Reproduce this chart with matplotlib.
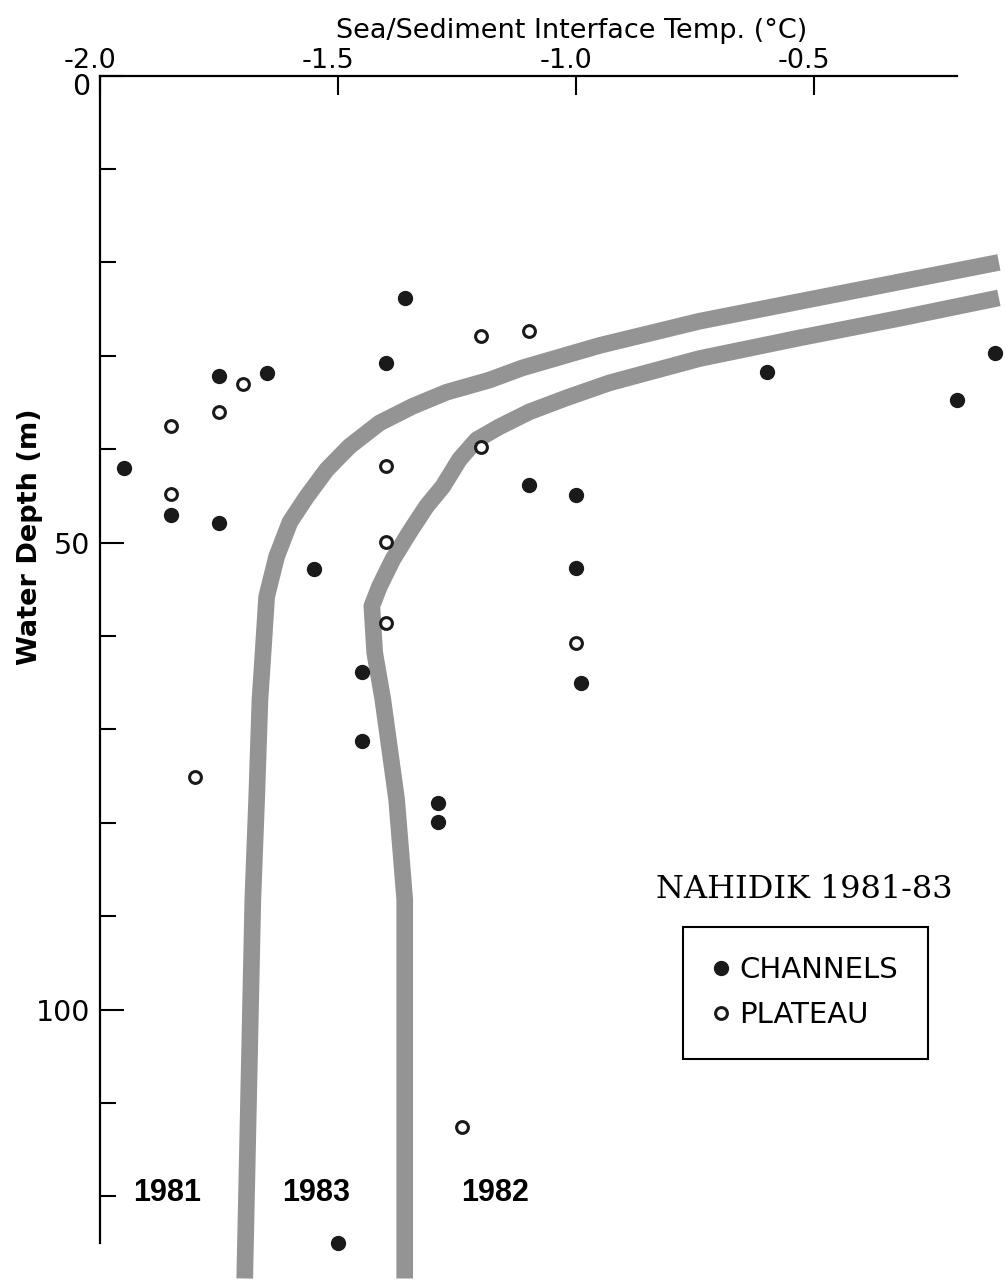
import numpy as np
import matplotlib
matplotlib.use('Agg')
import matplotlib.pyplot as plt
import matplotlib.transforms as mtransforms
from matplotlib.lines import Line2D

plt.rcParams['axes.unicode_minus'] = False
plt.rcParams['font.family'] = 'DejaVu Sans'

# channel stations (filled) : temperature (C), water depth (m)
chan_temp = [-1.95, -1.85, -1.75, -1.75, -1.65, -1.55, -1.36, -1.40, -1.10, -1.00,
             -1.00, -0.99, -1.45, -1.45, -1.29, -1.29, -0.60, -0.20, -0.12, -1.50]
chan_depth = [42.0, 47.1, 47.9, 32.2, 31.8, 52.8, 23.8, 30.8, 43.8, 44.9,
              52.7, 65.0, 63.9, 71.2, 77.9, 79.9, 31.7, 34.7, 29.7, 125.0]

# plateau stations (open)
plat_temp = [-1.85, -1.75, -1.70, -1.85, -1.20, -1.10, -1.20, -1.40, -1.40, -1.40,
             -1.00, -1.80, -1.24]
plat_depth = [37.5, 36.0, 33.0, 44.8, 27.9, 27.3, 39.8, 41.8, 49.9, 58.6,
              60.8, 75.1, 112.6]

# smoothed profiles, 1983 and 1982
t1983 = [-0.112, -0.532, -0.741, -0.951, -1.113, -1.182, -1.272, -1.343, -1.413,
         -1.476, -1.524, -1.566, -1.601, -1.629, -1.650, -1.658, -1.664, -1.671,
         -1.679, -1.696]
d1983 = [20.0, 24.2, 26.3, 28.9, 31.3, 32.6, 33.9, 35.4, 37.2,
         39.7, 42.2, 45.1, 47.8, 51.5, 55.8, 62.2, 66.8, 77.5,
         88.2, 128.8]
t1982 = [-0.112, -0.322, -0.532, -0.741, -0.930, -1.020, -1.098, -1.161, -1.209,
         -1.245, -1.280, -1.314, -1.350, -1.385, -1.413, -1.429, -1.423, -1.406,
         -1.377, -1.360, -1.360]
d1982 = [23.8, 26.0, 28.1, 30.3, 32.9, 34.5, 36.0, 37.6, 39.0,
         41.1, 44.0, 46.1, 48.9, 51.8, 54.7, 56.8, 61.8, 66.8,
         77.5, 88.2, 128.8]

xticks = [-2.0, -1.5, -1.0, -0.5]
xticklabels = ['-2.0', '-1.5', '-1.0', '-0.5']
yticks = [0, 50, 100]

fig = plt.figure(figsize=(10.05, 12.8), dpi=100)
ax = fig.add_axes([100 / 1005, 37 / 1280, 857 / 1005, 1167.4 / 1280])

band = '#949494'
ax.plot(t1983, d1983, color=band, lw=12, solid_capstyle='butt', solid_joinstyle='round',
        clip_on=False, zorder=1)
ax.plot(t1982, d1982, color=band, lw=12, solid_capstyle='butt', solid_joinstyle='round',
        clip_on=False, zorder=1)

ax.plot(chan_temp, chan_depth, 'o', ms=10, color='#1a1a1a', mec='#1a1a1a', clip_on=False, zorder=3)
ax.plot(plat_temp, plat_depth, 'o', ms=8.5, mfc='white', mec='#1a1a1a', mew=2.2, clip_on=False, zorder=3)

ax.set_xlim(-2.0, -0.2)
ax.set_ylim(125, 0)

for s in ['right', 'bottom']:
    ax.spines[s].set_visible(False)
for s in ['left', 'top']:
    ax.spines[s].set_linewidth(1.6)

ax.xaxis.tick_top()
ax.xaxis.set_label_position('top')
ax.set_xticks(xticks)
ax.set_xticklabels(xticklabels)
ax.set_yticks(yticks)
ax.set_yticks(np.arange(0, 130, 10), minor=True)
ax.tick_params(axis='x', direction='in', length=14, width=1.5, pad=1.5, labelsize=19.5)
ax.tick_params(axis='y', which='major', direction='in', length=17, width=1.5, pad=7, labelsize=20.5)
ax.tick_params(axis='y', which='minor', direction='in', length=11.5, width=1.5)

# hyphen sits left of the number, keep the digits on the tick
shift = mtransforms.ScaledTranslation(-10 / 100, 0, fig.dpi_scale_trans)
for lab in ax.get_xticklabels():
    lab.set_transform(lab.get_transform() + shift)
down = mtransforms.ScaledTranslation(0, -8 / 100, fig.dpi_scale_trans)
ylabs = ax.get_yticklabels()
ylabs[0].set_transform(ylabs[0].get_transform() + down)

ax.set_xlabel('Sea/Sediment Interface Temp. (°C)', fontsize=19.5)
ax.xaxis.set_label_coords(0.55, 1.0322)
ax.set_ylabel('Water Depth (m)', fontsize=19.5, fontweight='bold')
ax.yaxis.set_label_coords(-0.066, 0.605)

for yr, tx in zip(['1981', '1983', '1982'], [-1.859, -1.547, -1.171]):
    ax.text(tx, 119.6, yr, ha='center', va='center', fontsize=22,
            fontweight='bold', family='Liberation Sans')

ax.text(-0.521, 87.1, 'NAHIDIK 1981-83', ha='center', va='center',
        fontsize=23, family='DejaVu Serif')

handles = [Line2D([], [], ls='', marker='o', ms=10, color='#1a1a1a'),
           Line2D([], [], ls='', marker='o', ms=8.5, mfc='white', mec='#1a1a1a', mew=2.2)]
leg = ax.legend(handles, ['CHANNELS', 'PLATEAU'], loc='center',
                bbox_to_anchor=(-0.519, 98.2), bbox_transform=ax.transData,
                fontsize=21, frameon=True, fancybox=False, framealpha=1,
                edgecolor='black', borderpad=1.0, handlelength=0.6,
                handletextpad=0.35, labelspacing=0.6)
leg.get_frame().set_linewidth(1.5)

fig.savefig('out.png', dpi=100)
